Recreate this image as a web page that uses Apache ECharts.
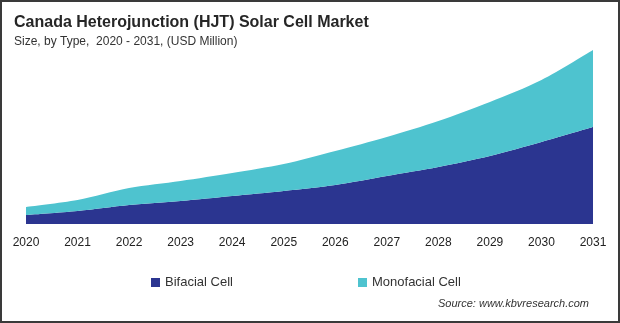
<!DOCTYPE html>
<html><head><meta charset="utf-8">
<script src="https://cdn.jsdelivr.net/npm/echarts@6/dist/echarts.min.js"></script>
<style>html,body{margin:0;padding:0;background:#fff}#c{width:620px;height:323px}</style>
</head><body><div id="c"></div>
<script>
const years = ['2020','2021','2022','2023','2024','2025','2026','2027','2028','2029','2030','2031'];
const bifacial = [9, 13, 19, 23, 28, 33, 39, 48, 57, 68, 82, 97];
const monofacial = [8, 11, 17, 20, 23, 27, 34, 39, 46, 54, 62, 77];

const chart = echarts.init(document.getElementById('c'));
const font = 'Liberation Sans, Arial, sans-serif';
chart.setOption({
  animation: false,
  textStyle: {fontFamily: font},
  title: [
    {text: 'Canada Heterojunction (HJT) Solar Cell Market', left: 9, top: 10, padding: 5,
     textStyle: {fontSize: 16, fontWeight: 'bold', color: '#262626', fontFamily: font}},
    {text: 'Size, by Type,  2020 - 2031, (USD Million)', left: 9, top: 31, padding: 5,
     textStyle: {fontSize: 12, fontWeight: 'normal', color: '#333', fontFamily: font}},
    {text: 'Source: www.kbvresearch.com', right: 26, top: 293, padding: 5,
     textStyle: {fontSize: 11, fontWeight: 'normal', fontStyle: 'italic', color: '#333', fontFamily: font}}
  ],
  legend: [
    {data: ['Bifacial Cell'], left: 146, top: 271, icon: 'rect', itemWidth: 9, itemHeight: 9, itemGap: 5,
     textStyle: {fontSize: 13, color: '#333', fontFamily: font}},
    {data: ['Monofacial Cell'], left: 353, top: 271, icon: 'rect', itemWidth: 9, itemHeight: 9, itemGap: 5,
     textStyle: {fontSize: 13, color: '#333', fontFamily: font}}
  ],
  grid: {left: 26, right: 27, top: 50, bottom: 99, containLabel: false},
  xAxis: {type: 'category', data: years, boundaryGap: false,
    axisLine: {show: false}, axisTick: {show: false},
    axisLabel: {fontSize: 12, color: '#222', margin: 13, fontFamily: font}},
  yAxis: {type: 'value', min: 0, max: 174, show: false, splitLine: {show: false}},
  series: [
    {name: 'Bifacial Cell', type: 'line', stack: 't', data: bifacial, smooth: 0.3, symbol: 'none',
     lineStyle: {width: 0}, itemStyle: {color: '#2B3590'}, areaStyle: {color: '#2B3590', opacity: 1}},
    {name: 'Monofacial Cell', type: 'line', stack: 't', data: monofacial, smooth: 0.3, symbol: 'none',
     lineStyle: {width: 0}, itemStyle: {color: '#4EC3CF'}, areaStyle: {color: '#4EC3CF', opacity: 1}}
  ],
  graphic: [{type: 'rect', shape: {x: 1, y: 1, width: 618, height: 321}, style: {fill: 'none', stroke: '#3a3a3a', lineWidth: 2}, silent: true}]
});
</script></body></html>
